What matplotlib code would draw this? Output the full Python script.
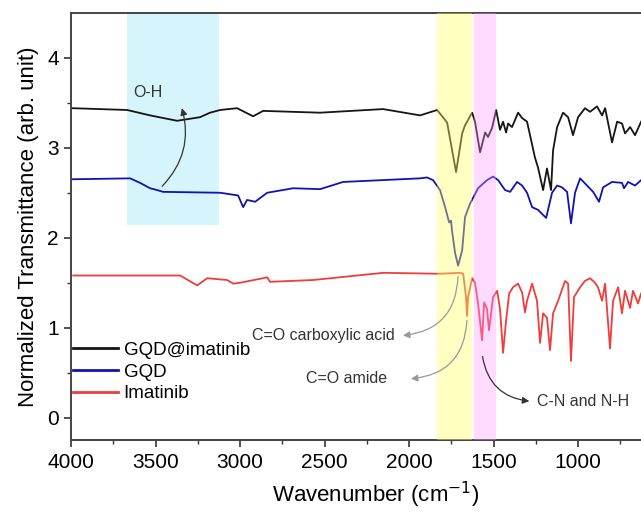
import numpy as np
from matplotlib import pyplot as plt

plt.rcParams['font.family'] = ['Liberation Sans', 'DejaVu Sans']

# GQD@imatinib
wn_mix = [3994, 3669, 3533, 3373, 3237, 3178, 3118, 3018, 2923, 2864, 2527, 2154,
          1935, 1834, 1775,
          1722, 1686, 1669, 1627, 1610, 1580, 1550, 1533, 1509, 1485, 1462, 1444,
          1426, 1414, 1391, 1355, 1331, 1302, 1255, 1237, 1207, 1184, 1160, 1148,
          1124, 1089, 1059, 1030, 1000, 959, 929, 888, 858, 840, 799, 769, 740,
          722, 692, 663, 627]
t_mix = [3.44, 3.42, 3.36, 3.30, 3.34, 3.39, 3.42, 3.44, 3.35, 3.41, 3.39, 3.43,
         3.36, 3.42, 3.28,
         2.73, 3.16, 3.25, 3.39, 3.29, 2.95, 3.17, 3.12, 3.22, 3.42, 3.20, 3.29,
         3.17, 3.27, 3.23, 3.39, 3.33, 3.29, 2.89, 2.78, 2.53, 2.77, 2.53, 2.97,
         3.23, 3.39, 3.34, 3.14, 3.34, 3.44, 3.40, 3.46, 3.36, 3.44, 3.06, 3.29, 3.27,
         3.16, 3.23, 3.14, 3.29]

# GQD
wn_gqd = [3994, 3651, 3592, 3533, 3491, 3456, 3118, 3012, 2982, 2959, 2911, 2840,
          2686, 2527,
          2391, 1935, 1894, 1858, 1817, 1787, 1763, 1752, 1746, 1728, 1710, 1686,
          1669, 1639, 1592, 1539, 1503, 1473, 1432, 1402, 1361, 1331, 1302, 1272,
          1237, 1189, 1154, 1124, 1095, 1065, 1042, 1018, 988, 947, 911, 876, 852,
          799, 740, 728, 704, 663, 627]
t_gqd = [2.65, 2.66, 2.61, 2.55, 2.53, 2.51, 2.50, 2.47, 2.34, 2.42, 2.40, 2.50,
         2.55, 2.54,
         2.62, 2.66, 2.67, 2.64, 2.53, 2.34, 2.17, 2.19, 2.08, 1.83, 1.69, 1.86,
         2.23, 2.38, 2.55, 2.64, 2.68, 2.64, 2.53, 2.51, 2.62, 2.58, 2.50, 2.34,
         2.31, 2.22, 2.50, 2.58, 2.56, 2.51, 2.16, 2.50, 2.66, 2.58, 2.51, 2.40, 2.56,
         2.62, 2.61, 2.55, 2.62, 2.58, 2.64]

# Imatinib
wn_ima = [3988, 3355, 3254, 3195, 3077, 3059, 3041, 3000, 2864, 2840, 2823, 2568,
          2154, 1834, 1817, 1698, 1680, 1663, 1657, 1651, 1627, 1610, 1592, 1568,
          1556, 1539, 1527, 1503, 1479, 1462, 1444, 1426, 1408, 1385, 1355, 1331,
          1314, 1302, 1272, 1243, 1225, 1207, 1184, 1166, 1148, 1118, 1077, 1059,
          1042, 1024, 988, 959, 929, 900, 882, 858, 840, 811, 793, 763, 740, 722,
          692, 675, 645, 627]
t_ima = [1.58, 1.58, 1.47, 1.55, 1.53, 1.51, 1.49, 1.50, 1.55, 1.56, 1.51, 1.53,
         1.61, 1.60, 1.60, 1.61, 1.60, 1.34, 1.13, 1.34, 1.55, 1.50, 1.27, 0.86,
         1.28, 1.21, 0.97, 1.34, 1.41, 1.21, 0.72, 1.08, 1.38, 1.45, 1.49, 1.39,
         1.17, 1.30, 1.49, 1.30, 0.83, 1.16, 1.11, 0.75, 1.16, 1.30, 1.52, 1.49,
         0.63, 1.34, 1.45, 1.52, 1.55, 1.50, 1.45, 1.30, 1.49, 0.77, 1.30, 1.45, 1.16, 1.41,
         1.22, 1.41, 1.27, 1.38]

fig = plt.figure(figsize=(6.41, 5.13), dpi=100)
ax = fig.add_axes([0.111, 0.142, 0.949, 0.833])

# highlighted bands
ax.axvspan(3124, 3669, ymin=0.503, ymax=1, color='#d5f4fb', lw=0, zorder=0)
ax.axvspan(1627, 1834, color='#ffff66', alpha=0.4, lw=0, zorder=3)
ax.axvspan(1485, 1615, color='#ff99ff', alpha=0.35, lw=0, zorder=3)

ax.plot(wn_mix, t_mix, color='#151515', lw=1.3, label='GQD@imatinib', zorder=2)
ax.plot(wn_gqd, t_gqd, color='#1212b0', lw=1.3, label='GQD', zorder=2)
ax.plot(wn_ima, t_ima, color='#f03c3c', lw=1.3, label='Imatinib', zorder=2)

# annotations
ax.text(3547, 3.61, 'O-H', fontsize=11.5, ha='center', va='center', color='#333333')
ax.annotate('', xy=(3349, 3.47), xytext=(3473, 2.55),
            arrowprops=dict(arrowstyle='-|>', connectionstyle='arc3,rad=0.3',
                            color='#333333', lw=0.9, mutation_scale=10))

ax.text(2083, 0.91, 'C=O carboxylic acid', fontsize=11.5, ha='right', va='center', color='#333333')
ax.annotate('', xy=(2053, 0.91), xytext=(1710, 1.60),
            arrowprops=dict(arrowstyle='-|>', connectionstyle='arc3,rad=-0.45',
                            color='#999999', lw=0.9, mutation_scale=10))

ax.text(2130, 0.43, 'C=O amide', fontsize=11.5, ha='right', va='center', color='#333333')
ax.annotate('', xy=(2006, 0.43), xytext=(1657, 1.11),
            arrowprops=dict(arrowstyle='-|>', connectionstyle='arc3,rad=-0.45',
                            color='#999999', lw=0.9, mutation_scale=10))

ax.text(1243, 0.18, 'C-N and N-H', fontsize=11.5, ha='left', va='center', color='#333333')
ax.annotate('', xy=(1272, 0.18), xytext=(1568, 0.71),
            arrowprops=dict(arrowstyle='-|>', connectionstyle='arc3,rad=0.4',
                            color='#333333', lw=0.9, mutation_scale=10))

ax.set_xlim(4000, 400)
ax.set_ylim(-0.25, 4.5)
ax.set_xticks([4000, 3500, 3000, 2500, 2000, 1500, 1000])
ax.set_xticks(np.arange(3750, 400, -500), minor=True)
ax.set_yticks([0, 1, 2, 3, 4])
ax.set_yticks([0.5, 1.5, 2.5, 3.5], minor=True)
ax.tick_params(axis='both', which='major', direction='out', length=5, width=1.2,
               labelsize=15, pad=4, color='#333333')
ax.tick_params(axis='both', which='minor', direction='out', length=3, width=1.0,
               color='#333333')
for side in ['left', 'bottom', 'top', 'right']:
    ax.spines[side].set_linewidth(1.4)
    ax.spines[side].set_color('#444444')

ax.set_xlabel('Wavenumber (cm$^{-1}$)', fontsize=16, labelpad=6)
ax.set_ylabel('Normalized Transmittance (arb. unit)', fontsize=16, labelpad=6)

leg = ax.legend(loc='upper left', bbox_to_anchor=(0.0, 0.235), frameon=False,
                fontsize=13.5, handlelength=2.4, handletextpad=0.3,
                labelspacing=0.25, borderaxespad=0, borderpad=0.1)
for line in leg.get_lines():
    line.set_linewidth(2)

plt.savefig('out.png', dpi=100)
